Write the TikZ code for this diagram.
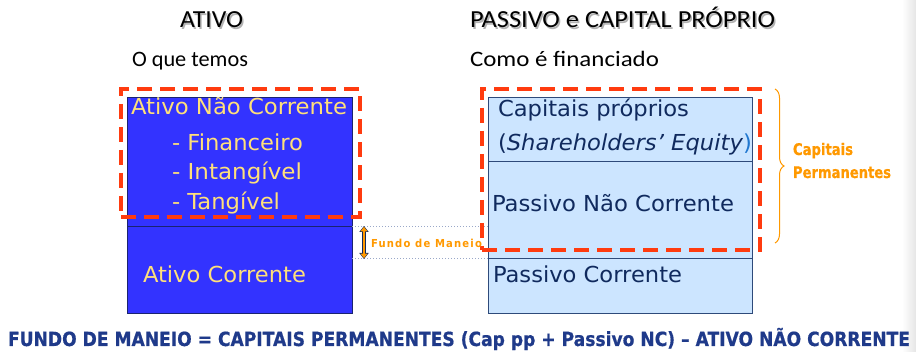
\documentclass[tikz,border=0pt]{standalone}
\usepackage{fontspec}
\usepackage{graphicx}
\setmainfont{DejaVu Sans}
\newfontfamily\calfont{Carlito}
\newfontfamily\spacedfont{DejaVu Sans}[LetterSpace=12]
\newfontfamily\heavyfont{DejaVu Sans}[BoldFeatures={FakeBold=0.7}]
\usetikzlibrary{decorations.pathreplacing,arrows.meta}
\definecolor{lblue}{HTML}{3333FF}
\definecolor{lborder}{HTML}{1A2370}
\definecolor{rblue}{HTML}{CCE5FF}
\definecolor{rborder}{HTML}{2E4A7A}
\definecolor{ytext}{HTML}{FFE07A}
\definecolor{ntext}{HTML}{102A5E}
\definecolor{rdash}{HTML}{FF3B0F}
\definecolor{orng}{HTML}{FF9900}
\definecolor{btext}{HTML}{1F3A8A}
\definecolor{dotc}{HTML}{9AA8C8}
\definecolor{parblue}{HTML}{1F77D0}
\newsavebox\fitbox
\newcommand\fitx[2]{\sbox\fitbox{#2}\pgfmathsetmacro\fitsx{#1/\the\wd\fitbox}\scalebox{\fitsx}[1]{\usebox\fitbox}}
\begin{document}
\begin{tikzpicture}[x=1pt,y=-1pt,
  txt/.style={inner sep=0pt, outer sep=0pt, anchor=base west},
  lbox/.style={draw=lborder, fill=lblue, line width=0.8pt, inner sep=0pt},
  rbox/.style={draw=rborder, fill=rblue, line width=0.8pt, inner sep=0pt},
  reddash/.style={draw=rdash, line width=4pt, dash pattern=on 15pt off 8pt},
  dotline/.style={draw=dotc, line width=1pt, dotted},
  head/.style={txt, font=\calfont\fontsize{24.5}{28}\selectfont},
  sub/.style={txt, font=\calfont\fontsize{22}{26}\selectfont},
  shadowtxt/.style={text=black!30},
  ltxt/.style={txt, text=ytext, font=\fontsize{22}{26}\selectfont},
  rtxt/.style={txt, text=ntext, font=\fontsize{22}{26}\selectfont}]
\useasboundingbox (0,0) rectangle (916,352);
\fill[white] (0,0) rectangle (916,352);
\shade[left color=white, right color=black!10] (902,0) rectangle (916,352);

% headings (with soft shadow)
\node[head, shadowtxt] (h1s) at (181.5,29.5) {\fitx{63}{ATIVO}};
\node[head] (h1) at (180,28) {\fitx{63}{ATIVO}};
\node[sub] (s1) at (132,67) {\fitx{116}{O que temos}};
\node[head, shadowtxt] (h2s) at (471.5,29.5) {\fitx{305}{PASSIVO e CAPITAL PRÓPRIO}};
\node[head] (h2) at (470,28) {\fitx{305}{PASSIVO e CAPITAL PRÓPRIO}};
\node[sub] (s2) at (470,67) {\fitx{189}{Como é financiado}};

% left boxes
\node[lbox, minimum width=225pt, minimum height=129pt] (anc) at (239.5,161.5) {};
\node[lbox, minimum width=225pt, minimum height=87pt] (ac) at (239.5,269.5) {};
% right boxes
\node[rbox, minimum width=264pt, minimum height=64pt] (cp) at (620,129) {};
\node[rbox, minimum width=264pt, minimum height=97pt] (pnc) at (620,209.5) {};
\node[rbox, minimum width=264pt, minimum height=55pt] (pc) at (620,285.5) {};

% left texts
\node[ltxt] (t1) at (131,115) {\fitx{216}{Ativo Não Corrente}};
\node[ltxt] (t2) at (172,151) {\fitx{131}{- Financeiro}};
\node[ltxt] (t3) at (172,180) {\fitx{130}{- Intangível}};
\node[ltxt] (t4) at (172,210) {\fitx{108}{- Tangível}};
\node[ltxt] (t5) at (143,283) {\fitx{163}{Ativo Corrente}};

% right texts
\node[rtxt] (r1) at (498,117) {\fitx{191}{Capitais próprios}};
\node[rtxt] (r2) at (498,151) {\fitx{254}{(\textit{Shareholders’ Equity}\textcolor{parblue}{)}}};
\node[rtxt] (r3) at (492,212) {\fitx{242}{Passivo Não Corrente}};
\node[rtxt] (r4) at (493,283) {\fitx{189}{Passivo Corrente}};

% dotted connectors
\draw[dotline] (anc.south east) -- (anc.south east -| pnc.west);
\draw[dotline] (ac.east |- pnc.south) -- (pnc.south west);

% red dashed frames
\node[reddash, inner sep=0pt, minimum width=239pt, minimum height=128pt] (fl) at (240.5,153) {};
\node[reddash, inner sep=0pt, minimum width=278pt, minimum height=161pt] (fr) at (621,169.5) {};

% fundo de maneio arrow
\coordinate (fa) at (364,226);
\coordinate (fb) at (364,259);
\draw[draw=ntext, line width=3.4pt, {Triangle[width=9pt,length=6pt]}-{Triangle[width=9pt,length=6pt]}] (fa) -- (fb);
\draw[draw=orng, line width=1.8pt, shorten <=0.8pt, shorten >=0.8pt, {Triangle[width=6.5pt,length=4.5pt]}-{Triangle[width=6.5pt,length=4.5pt]}] (fa) -- (fb);
\node[txt, text=orng, font=\spacedfont\bfseries\fontsize{11}{13}\selectfont] (fm) at (371,248) {\fitx{111}{Fundo de Maneio}};

% brace
\coordinate (ba) at (775,89);
\coordinate (bb) at (775,243);
\draw[orng, line width=1pt, decorate, decoration={brace, amplitude=9pt}] (ba) -- (bb);
\node[txt, text=orng, font=\heavyfont\bfseries\fontsize{16}{18}\selectfont] (cp1) at (793,155) {\fitx{60}{Capitais}};
\node[txt, text=orng, font=\heavyfont\bfseries\fontsize{16}{18}\selectfont] (cp2) at (793,178) {\fitx{98}{Permanentes}};

% bottom formula
\node[txt, text=btext, font=\heavyfont\bfseries\fontsize{19.5}{22}\selectfont] (fml) at (8,346) {\fitx{902}{FUNDO DE MANEIO = CAPITAIS PERMANENTES (Cap pp + Passivo NC) – ATIVO NÃO CORRENTE}};
\end{tikzpicture}
\end{document}
